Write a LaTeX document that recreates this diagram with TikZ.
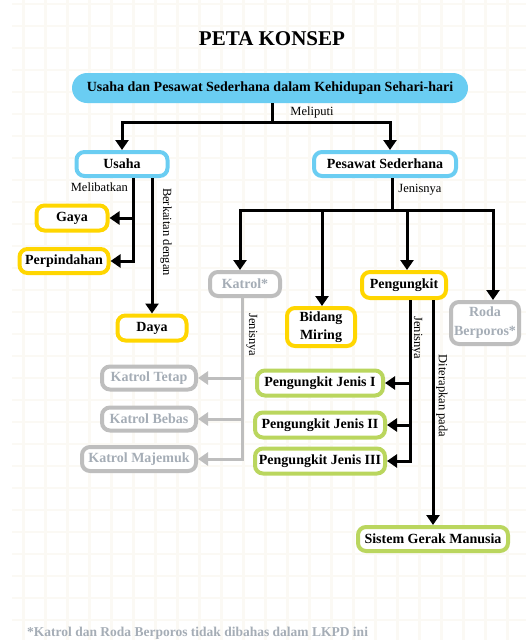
\documentclass[tikz,border=0pt]{standalone}
\usepackage{fontspec}
\setmainfont{Liberation Serif}
\usetikzlibrary{arrows.meta}
\definecolor{cblue}{RGB}{106,205,242}
\definecolor{cyel}{RGB}{255,214,0}
\definecolor{cgreen}{RGB}{186,214,94}
\definecolor{cgreyb}{RGB}{190,190,190}
\definecolor{cgreyt}{RGB}{165,173,182}
\definecolor{cgrid}{RGB}{251,249,244}
\tikzset{
  box/.style={draw, line width=4pt, rounded corners=8pt, fill=white, inner sep=0pt, font=\fontsize{14}{16}\selectfont\bfseries, align=center},
  bluebox/.style={box, draw=cblue},
  yelbox/.style={box, draw=cyel},
  greenbox/.style={box, draw=cgreen},
  greybox/.style={box, draw=cgreyb, text=cgreyt},
  line/.style={draw=black, line width=3pt},
  arr/.style={line, -{Triangle[length=10pt,width=13pt]}},
  garr/.style={draw=cgreyb, line width=3pt, -{Triangle[length=10pt,width=13pt]}},
  lbl/.style={font=\fontsize{12.5}{14}\selectfont, inner sep=1pt},
}
\begin{document}
\begin{tikzpicture}[x=1pt,y=-1pt]
\useasboundingbox (0,0) rectangle (526,640);
\fill[white] (0,0) rectangle (526,640);
% background grid
\foreach \i in {0,...,23} {\draw[cgrid, line width=2.5pt] (23.3+22*\i,0) -- (23.3+22*\i,640);}
\foreach \j in {0,...,29} {\draw[cgrid, line width=2.5pt] (12,4+22*\j) -- (526,4+22*\j);}

\node[font=\fontsize{21}{24}\selectfont\bfseries] (title) at (272,39) {PETA KONSEP};

\node[fill=cblue, rounded corners=15pt, minimum width=396pt, minimum height=30pt, inner sep=0pt, font=\fontsize{14}{16}\selectfont\bfseries] (root) at (270,88) {Usaha dan Pesawat Sederhana dalam Kehidupan Sehari-hari};

\node[bluebox, minimum width=91pt, minimum height=24pt] (usaha) at (122,164) {Usaha};
\node[bluebox, minimum width=142pt, minimum height=24pt] (pes) at (385,164) {Pesawat Sederhana};

\node[yelbox, minimum width=71pt, minimum height=25pt] (gaya) at (72,218) {Gaya};
\node[yelbox, minimum width=89pt, minimum height=24pt] (perp) at (64,261) {Perpindahan};
\node[yelbox, minimum width=69pt, minimum height=25pt] (daya) at (152,328) {Daya};

\node[greybox, minimum width=70pt, minimum height=24pt] (katrol) at (245,284) {Katrol*};
\node[yelbox, minimum width=68pt, minimum height=38pt, font=\fontsize{14}{18}\selectfont\bfseries] (bidang) at (321,327) {Bidang\\Miring};
\node[yelbox, minimum width=84pt, minimum height=26pt] (peng) at (404,285) {Pengungkit};
\node[greybox, minimum width=68pt, minimum height=42pt, font=\fontsize{14}{19}\selectfont\bfseries] (roda) at (485,323) {Roda\\Berporos*};

\node[greybox, minimum width=94pt, minimum height=23pt] (ktetap) at (149,378) {Katrol Tetap};
\node[greybox, minimum width=94pt, minimum height=23pt] (kbebas) at (149,419) {Katrol Bebas};
\node[greybox, minimum width=114pt, minimum height=24pt] (kmaj) at (139,459) {Katrol Majemuk};

\node[greenbox, minimum width=126pt, minimum height=25pt] (j1) at (320,383) {Pengungkit Jenis I};
\node[greenbox, minimum width=130pt, minimum height=25pt] (j2) at (320,425) {Pengungkit Jenis II};
\node[greenbox, minimum width=130pt, minimum height=25pt] (j3) at (320,461) {Pengungkit Jenis III};
\node[greenbox, minimum width=150pt, minimum height=24pt] (sgm) at (433,539) {Sistem Gerak Manusia};

% connectors
\coordinate (h1) at (272,122);
\draw[line] (root.south -| h1) -- (h1);
\draw[arr] (h1) -| (usaha.north);
\draw[arr] (h1) -| ([xshift=5pt]pes.north);

\draw[arr] ([xshift=11pt]usaha.south) |- (gaya.east);
\draw[arr] ([xshift=11pt]usaha.south) |- (perp.east);
\draw[arr] ([xshift=30pt]usaha.south) -- (daya.north);

\coordinate (h2) at (392,210);
\draw[line] (pes.south -| h2) -- (h2);
\draw[arr] (h2) -| ([xshift=-5pt]katrol.north);
\draw[arr] (h2) -| ([xshift=1pt]bidang.north);
\draw[arr] (h2) -| ([xshift=3pt]peng.north);
\draw[arr] (h2) -| ([xshift=8pt]roda.north);

\draw[garr] ([xshift=-3pt]katrol.south) |- (ktetap.east);
\draw[garr] ([xshift=-3pt]katrol.south) |- (kbebas.east);
\draw[garr] ([xshift=-3pt]katrol.south) |- (kmaj.east);

\draw[arr] ([xshift=6pt]peng.south) |- (j1.east);
\draw[arr] ([xshift=6pt]peng.south) |- (j2.east);
\draw[arr] ([xshift=6pt]peng.south) |- (j3.east);
\draw[arr] (peng.south -| sgm.north) -- (sgm.north);

% labels
\node[lbl] (l1) at (312,112) {Meliputi};
\node[lbl, anchor=east] (l2) at (129,187) {Melibatkan};
\node[lbl, rotate=-90] (l3) at (166,232) {Berkaitan dengan};
\node[lbl] (l4) at (420,190) {Jenisnya};
\node[lbl, rotate=-90] (l5) at (252,335) {Jenisnya};
\node[lbl, rotate=-90] (l6) at (417,338) {Jenisnya};
\node[lbl, rotate=-90] (l7) at (442,396) {Diterapkan pada};

\node[anchor=west, inner sep=0pt, text=cgreyt, font=\fontsize{13.5}{15}\selectfont\bfseries] (foot) at (27,633) {*Katrol dan Roda Berporos tidak dibahas dalam LKPD ini};
\end{tikzpicture}
\end{document}
